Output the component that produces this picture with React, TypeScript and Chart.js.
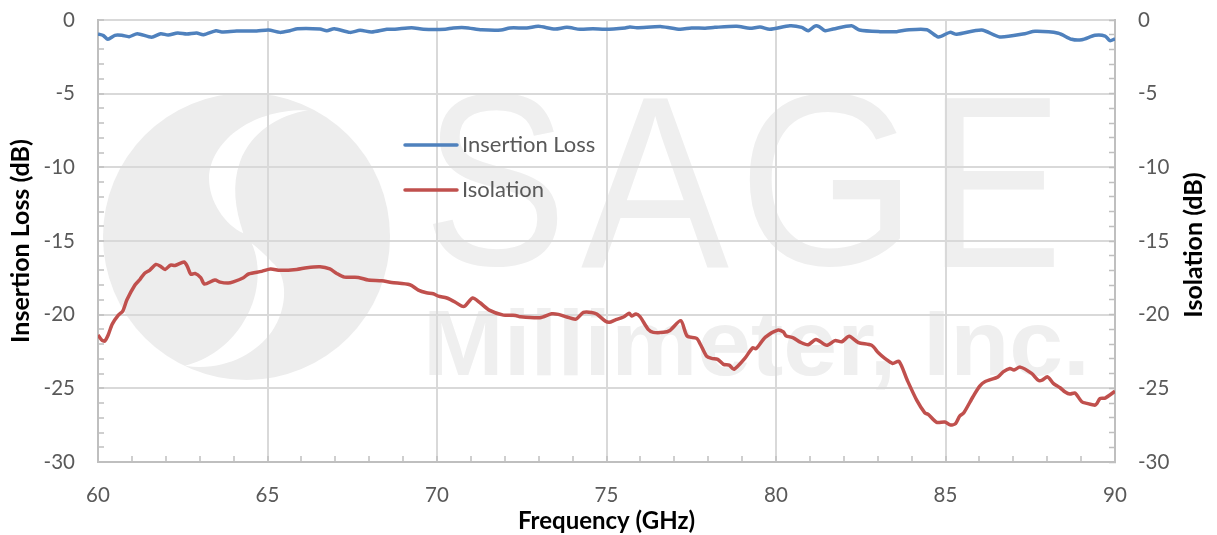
import React, { useEffect, useRef } from "react";
import { Chart, registerables } from "chart.js";

Chart.register(...registerables);

const lossFreq = [60,60.16,60.29,60.5,60.7,60.92,61.16,61.58,61.85,62.07,62.35,62.62,62.91,63.11,63.48,63.65,64.09,64.68,65.03,65.37,65.66,65.89,66.55,66.75,66.97,67.43,67.73,68.07,68.52,68.76,69.25,69.6,70.24,70.48,70.83,71.32,71.89,72.15,72.65,72.99,73.48,73.83,74.22,74.6,74.96,75.55,75.69,75.9,76.63,77.17,77.51,77.91,78.2,78.84,79.23,79.53,79.82,80.41,80.76,80.95,81.15,81.27,81.45,81.69,82.23,82.46,83.07,83.56,83.85,84.45,84.79,85.13,85.33,86.07,86.6,87.34,87.64,88.33,88.72,89.02,89.41,89.71,89.85,90];
const lossDb = [-0.95,-1.06,-1.31,-1.04,-1.04,-1.13,-0.93,-1.17,-0.93,-1.02,-0.88,-0.95,-0.88,-1,-0.73,-0.81,-0.75,-0.75,-0.68,-0.84,-0.73,-0.59,-0.61,-0.73,-0.59,-0.84,-0.7,-0.81,-0.63,-0.63,-0.52,-0.63,-0.63,-0.54,-0.52,-0.66,-0.68,-0.54,-0.54,-0.43,-0.61,-0.5,-0.63,-0.59,-0.63,-0.54,-0.48,-0.52,-0.45,-0.63,-0.54,-0.56,-0.5,-0.43,-0.56,-0.48,-0.63,-0.39,-0.5,-0.73,-0.41,-0.45,-0.73,-0.61,-0.39,-0.68,-0.79,-0.79,-0.68,-0.66,-1.15,-0.84,-0.97,-0.68,-1.15,-0.93,-0.77,-0.9,-1.31,-1.34,-1.04,-1.09,-1.4,-1.28];

const isoFreq = [60,60.11,60.2,60.3,60.42,60.6,60.73,60.85,61.09,61.24,61.37,61.53,61.71,61.83,61.98,62.14,62.27,62.54,62.63,62.74,62.86,63.03,63.14,63.45,63.6,63.84,63.99,64.29,64.44,64.83,65.09,65.37,65.86,66.16,66.55,66.84,67.04,67.27,67.68,67.97,68.37,68.66,69.2,69.45,69.69,69.89,70.04,70.29,70.53,70.73,70.83,71.05,71.27,71.54,71.96,72.32,72.45,73.04,73.38,73.58,73.83,74.1,74.32,74.56,74.71,74.96,75.08,75.25,75.5,75.67,75.74,75.87,75.99,76.23,76.38,76.68,76.87,77.19,77.38,77.66,77.78,77.95,78.1,78.28,78.45,78.62,78.76,79.08,79.31,79.41,79.68,80.05,80.22,80.29,80.51,80.71,80.95,81.18,81.5,81.74,81.94,82.16,82.43,82.82,83.02,83.21,83.44,83.63,83.87,84.15,84.39,84.49,84.74,84.98,85.15,85.3,85.42,85.54,85.81,86.01,86.16,86.55,86.7,86.9,87.02,87.2,87.54,87.74,87.85,88.01,88.18,88.38,88.53,88.67,88.82,89.02,89.17,89.41,89.46,89.56,89.71,90];
const isoDb = [-21.38,-21.72,-21.79,-21.38,-20.64,-20.03,-19.76,-19.01,-17.99,-17.6,-17.2,-16.97,-16.59,-16.7,-16.93,-16.63,-16.66,-16.43,-16.7,-17.26,-17.2,-17.49,-17.92,-17.65,-17.79,-17.85,-17.77,-17.49,-17.24,-17.06,-16.9,-16.99,-16.93,-16.81,-16.75,-16.9,-17.2,-17.45,-17.47,-17.65,-17.7,-17.81,-17.97,-18.33,-18.51,-18.58,-18.74,-18.87,-19.14,-19.42,-19.4,-18.87,-19.19,-19.69,-20.03,-20.05,-20.14,-20.21,-19.94,-19.98,-20.16,-20.3,-19.85,-19.85,-19.96,-20.43,-20.52,-20.37,-20.16,-19.91,-20.09,-19.96,-20.14,-21,-21.2,-21.2,-21.07,-20.41,-21.45,-21.61,-22.06,-22.81,-22.97,-23.03,-23.37,-23.42,-23.71,-22.97,-22.25,-22.31,-21.54,-21.05,-21.18,-21.43,-21.57,-21.86,-22.04,-21.68,-22.08,-21.76,-21.84,-21.47,-21.9,-22.08,-22.59,-22.97,-23.31,-23.17,-24.44,-25.8,-26.66,-26.77,-27.31,-27.29,-27.49,-27.38,-26.88,-26.66,-25.57,-24.85,-24.55,-24.22,-23.88,-23.65,-23.76,-23.56,-23.99,-24.46,-24.44,-24.22,-24.66,-24.96,-25.25,-25.39,-25.32,-25.91,-26.02,-26.14,-26.05,-25.69,-25.66,-25.2];

const LOSS_LABEL = "Insertion Loss";
const ISO_LABEL = "Isolation";
const X_TITLE = "Frequency (GHz)";
const Y_TITLE = "Insertion Loss (dB)";
const Y2_TITLE = "Isolation (dB)";
const WATERMARK_LETTERS = ["S", "A", "G", "E"];
const WATERMARK_LINE = "Millimeter, Inc.";

const FONT = "Lato, Carlito, sans-serif";
const TEXT = "#595959";
const GRID = "#d9d9d9";
const AXIS = "#bfbfbf";
const MARK = "#efefef";

const fitGlyph = (ctx: CanvasRenderingContext2D, s: string, x0: number, x1: number, top: number, bottom: number) => {
  ctx.save();
  ctx.font = "400px 'Liberation Sans'";
  ctx.textBaseline = "alphabetic";
  ctx.textAlign = "left";
  const m = ctx.measureText(s);
  const w = m.actualBoundingBoxLeft + m.actualBoundingBoxRight;
  const h = m.actualBoundingBoxAscent + m.actualBoundingBoxDescent;
  ctx.translate(x0, top);
  ctx.scale((x1 - x0) / w, (bottom - top) / h);
  ctx.fillText(s, m.actualBoundingBoxLeft, m.actualBoundingBoxAscent);
  ctx.restore();
};

const watermark = {
  id: "watermark",
  beforeDraw(chart: Chart) {
    const ctx = chart.ctx;
    ctx.save();
    ctx.fillStyle = "#ffffff";
    ctx.fillRect(0, 0, chart.width, chart.height);
    ctx.fillStyle = "#ededed";
    ctx.beginPath();
    ctx.arc(246.5, 236.5, 143.5, 0, Math.PI * 2);
    ctx.fill();
    ctx.save();
    ctx.translate(95, 85);
    ctx.scale(1 / 3, 1 / 3);
    ctx.fillStyle = "#ffffff";
    ctx.beginPath();
    ctx.moveTo(640, 76);
    ctx.bezierCurveTo(470, 70, 345, 170, 342, 280);
    ctx.bezierCurveTo(342, 350, 390, 420, 445, 445);
    ctx.bezierCurveTo(420, 370, 410, 300, 435, 230);
    ctx.bezierCurveTo(470, 140, 550, 90, 640, 76);
    ctx.fill();
    ctx.beginPath();
    ctx.moveTo(470, 475);
    ctx.bezierCurveTo(500, 540, 495, 640, 440, 720);
    ctx.bezierCurveTo(400, 780, 340, 825, 270, 842);
    ctx.bezierCurveTo(380, 860, 480, 810, 530, 740);
    ctx.bezierCurveTo(580, 670, 580, 570, 530, 530);
    ctx.bezierCurveTo(510, 510, 490, 490, 470, 475);
    ctx.fill();
    ctx.restore();
    ctx.fillStyle = MARK;
    const boxes = [[430, 558], [581, 730], [749, 900], [944, 1054]];
    WATERMARK_LETTERS.forEach((l, i) => {
      const over = l === "S" || l === "G" ? 2 : 0;
      fitGlyph(ctx, l, boxes[i][0], boxes[i][1], 95 - over, 267 + over);
    });
    ctx.font = "bold 93px 'Liberation Sans'";
    ctx.textAlign = "left";
    ctx.textBaseline = "alphabetic";
    const mw = ctx.measureText(WATERMARK_LINE).width;
    ctx.save();
    ctx.translate(423, 375);
    ctx.scale(667 / mw, 1);
    ctx.fillText(WATERMARK_LINE, 0, 0);
    ctx.restore();
    ctx.restore();
  },
};

const insideLegend = {
  id: "insideLegend",
  afterDatasetsDraw(chart: Chart) {
    const ctx = chart.ctx;
    const rows = [145, 190];
    ctx.save();
    chart.data.datasets.forEach((ds: any, i: number) => {
      ctx.strokeStyle = ds.borderColor;
      ctx.lineWidth = 3.5;
      ctx.lineCap = "round";
      ctx.beginPath();
      ctx.moveTo(405, rows[i]);
      ctx.lineTo(457, rows[i]);
      ctx.stroke();
      ctx.fillStyle = TEXT;
      ctx.font = `22px ${FONT}`;
      ctx.textAlign = "left";
      ctx.textBaseline = "middle";
      ctx.fillText(ds.label, 462, rows[i]);
    });
    ctx.translate(1202, 245);
    ctx.rotate(-Math.PI / 2);
    ctx.fillStyle = "#000000";
    ctx.font = `bold 25px ${FONT}`;
    ctx.textAlign = "center";
    ctx.textBaseline = "alphabetic";
    ctx.fillText(Y2_TITLE, 0, 0);
    ctx.restore();
  },
};

const everyFifth = (v: any) => (Number(v) % 5 === 0 ? String(v) : "");
const gridColor = (c: any) => (c.tick && c.tick.value % 5 === 0 ? GRID : "rgba(0,0,0,0)");
const noPad = (s: any) => {
  s.paddingTop = 0;
  s.paddingBottom = 0;
  s.paddingLeft = 0;
  s.paddingRight = 0;
};

export default function App() {
  const ref = useRef<HTMLCanvasElement>(null);
  useEffect(() => {
    const chart = new Chart(ref.current as HTMLCanvasElement, {
      type: "line",
      data: {
        datasets: [
          {
            label: LOSS_LABEL,
            data: lossFreq.map((x, i) => ({ x, y: lossDb[i] })),
            borderColor: "#4f81bd",
            backgroundColor: "#4f81bd",
            borderWidth: 3.5,
            pointRadius: 0,
            tension: 0.25,
            yAxisID: "y",
          },
          {
            label: ISO_LABEL,
            data: isoFreq.map((x, i) => ({ x, y: isoDb[i] })),
            borderColor: "#c0504d",
            backgroundColor: "#c0504d",
            borderWidth: 3.5,
            pointRadius: 0,
            tension: 0.25,
            yAxisID: "y1",
          },
        ],
      },
      options: {
        animation: false,
        responsive: false,
        devicePixelRatio: 1,
        layout: { padding: { top: 20, left: 0, right: 0, bottom: 0 } },
        plugins: { legend: { display: false }, tooltip: { enabled: false }, title: { display: false } },
        scales: {
          x: {
            type: "linear",
            min: 60,
            max: 90,
            afterFit: (s: any) => { s.height = 73; noPad(s); },
            border: { color: AXIS, width: 2 },
            grid: { color: gridColor, lineWidth: 2, tickColor: AXIS, tickLength: -6, tickWidth: 1.5 },
            ticks: { stepSize: 1, autoSkip: false, maxRotation: 0, callback: everyFifth, color: TEXT, font: { family: FONT, size: 20.5 }, padding: 27 },
            title: { display: true, text: X_TITLE, color: "#000000", font: { family: FONT, size: 24, weight: "bold" }, padding: { top: 0, bottom: -1 } },
          },
          y: {
            type: "linear",
            position: "left",
            min: -30,
            max: 0,
            afterFit: (s: any) => { s.width = 98; noPad(s); },
            border: { color: AXIS, width: 2 },
            grid: { color: gridColor, lineWidth: 2, tickColor: AXIS, tickLength: -6, tickWidth: 1.5 },
            ticks: { stepSize: 1, autoSkip: false, callback: everyFifth, color: TEXT, font: { family: FONT, size: 20.5 }, padding: 29 },
            title: { display: true, text: Y_TITLE, color: "#000000", font: { family: FONT, size: 25, weight: "bold" }, padding: { top: 6, bottom: 0 } },
          },
          y1: {
            type: "linear",
            position: "right",
            min: -30,
            max: 0,
            afterFit: (s: any) => { s.width = 102; noPad(s); },
            border: { color: AXIS, width: 2 },
            grid: { drawOnChartArea: false, tickColor: AXIS, tickLength: -6, tickWidth: 1.5 },
            ticks: { stepSize: 1, autoSkip: false, callback: everyFifth, color: TEXT, font: { family: FONT, size: 20.5 }, padding: 29 },
          },
        },
      },
      plugins: [watermark, insideLegend],
    } as any);
    return () => chart.destroy();
  }, []);
  return (
    <div style={{ position: "absolute", left: 0, top: 0, width: 1217, height: 535 }}>
      <canvas ref={ref} width={1217} height={535} style={{ display: "block" }} />
    </div>
  );
}
